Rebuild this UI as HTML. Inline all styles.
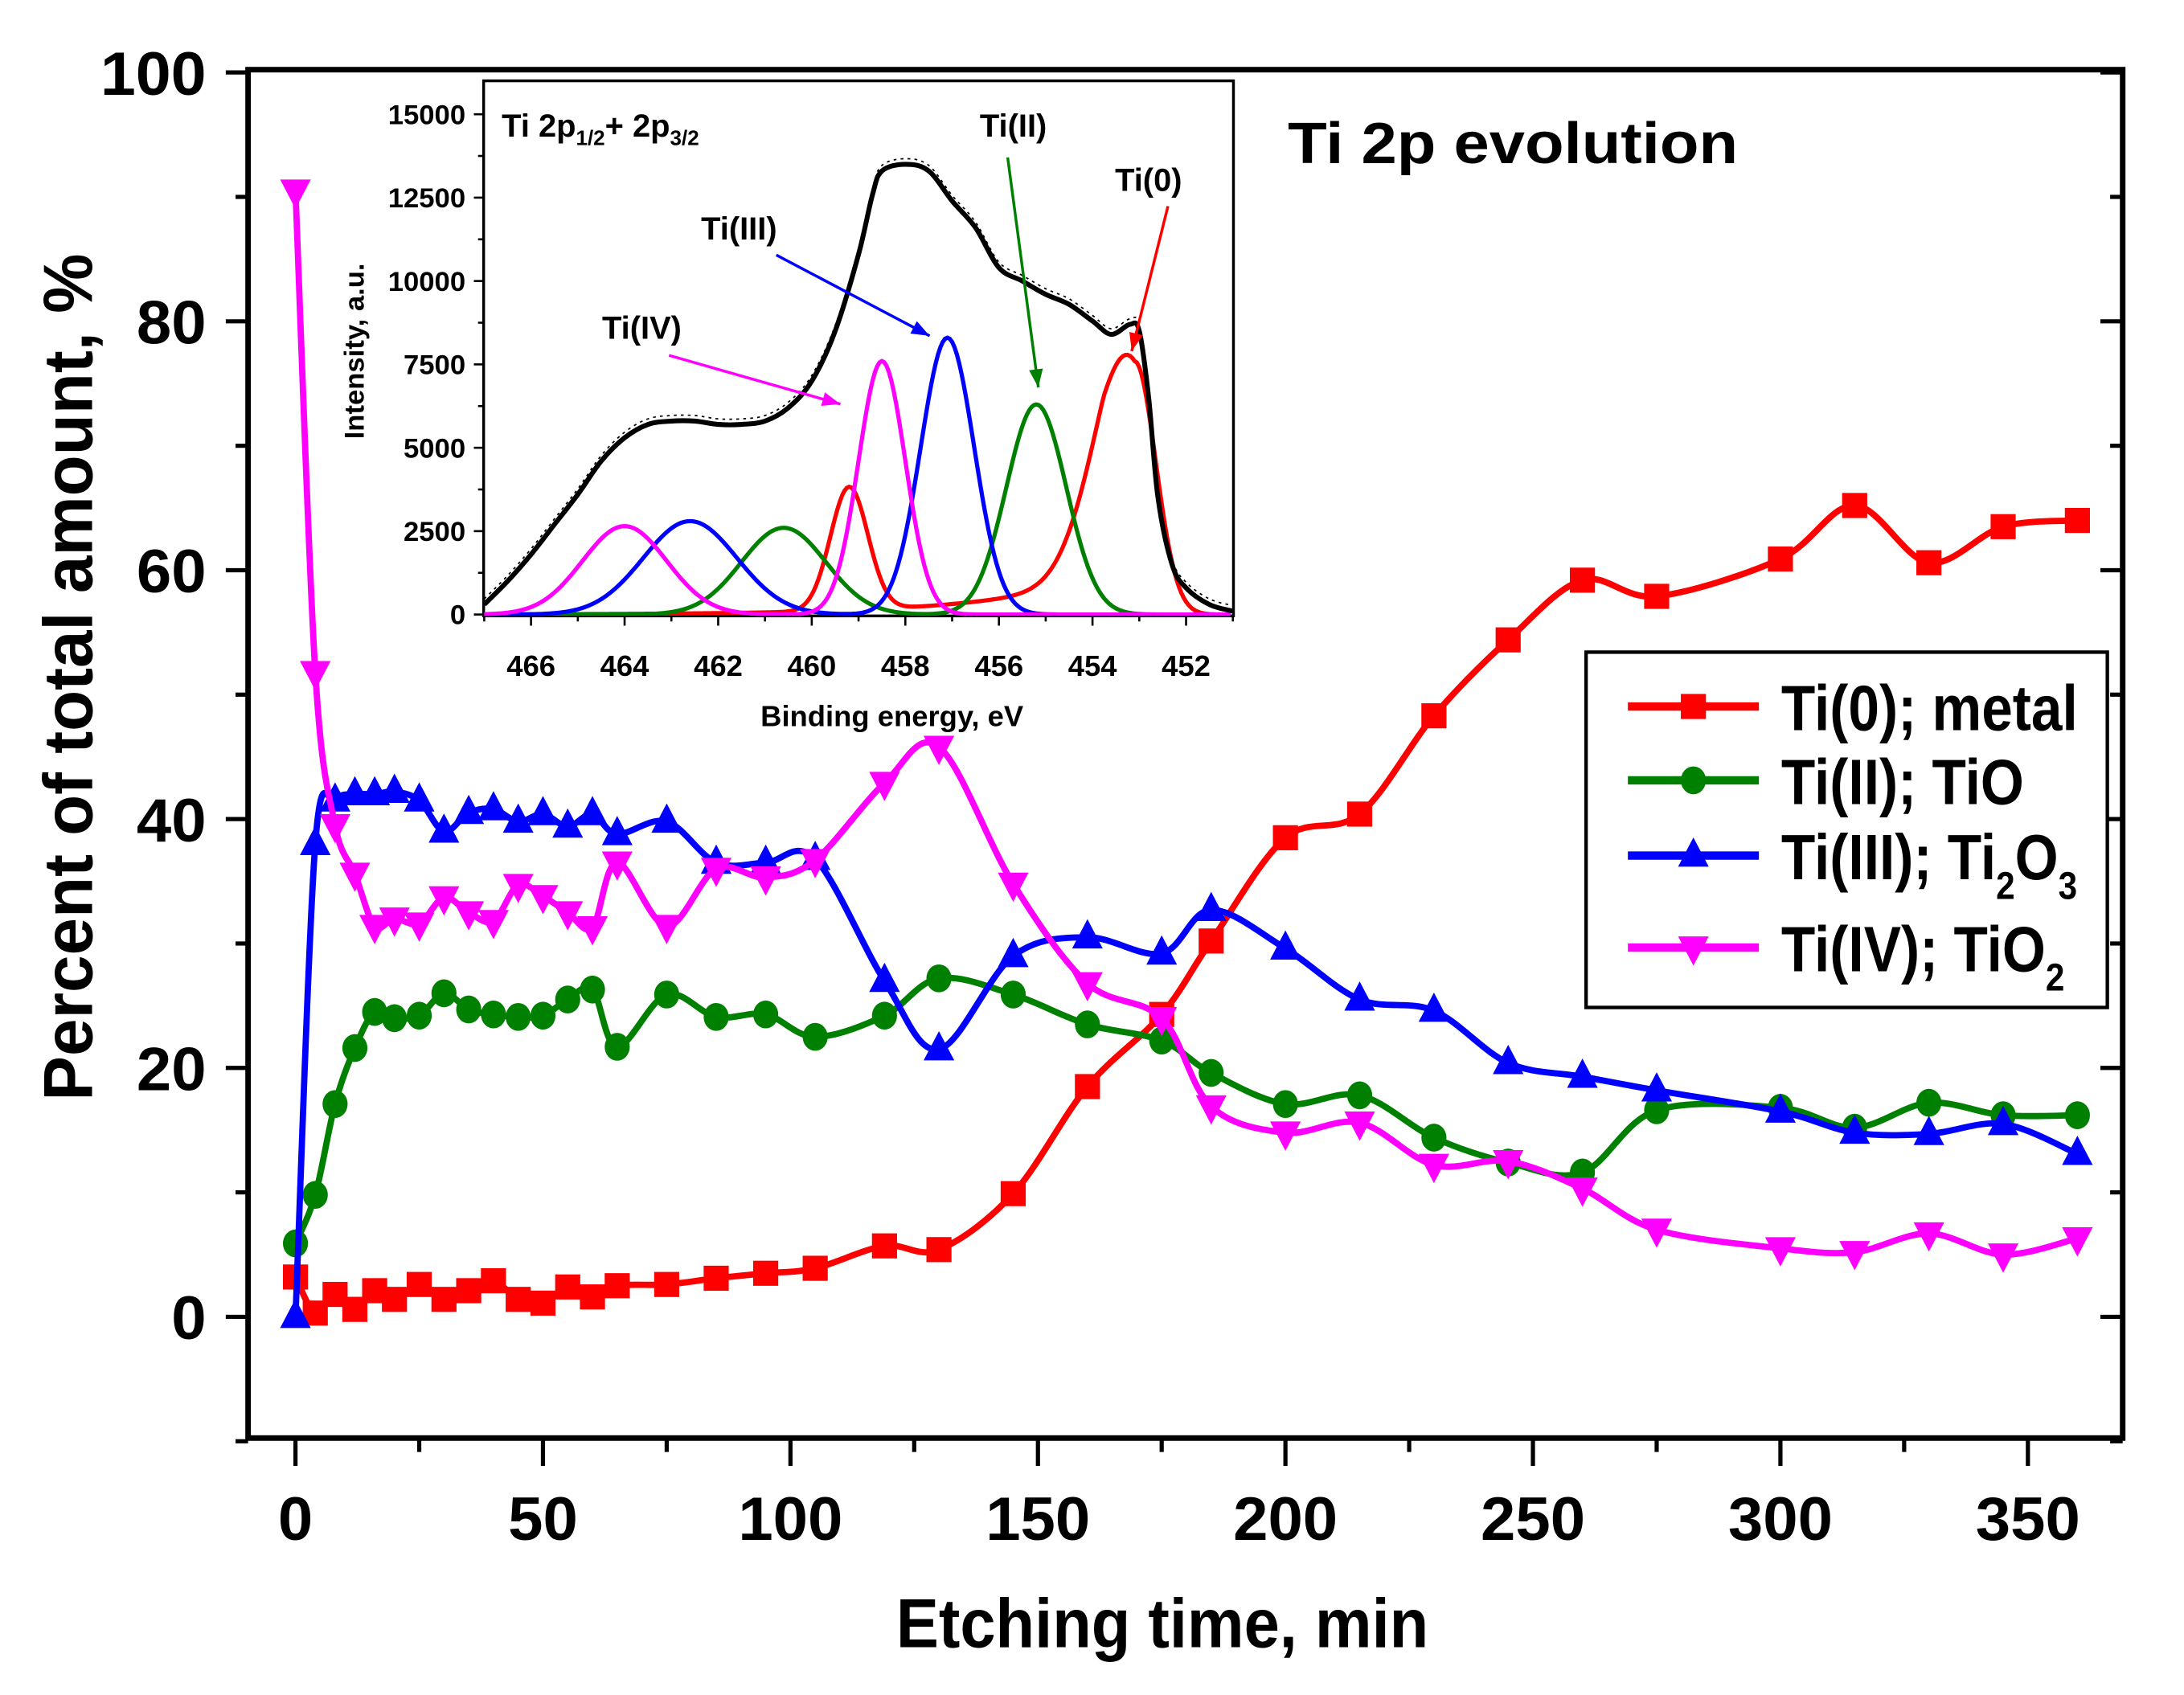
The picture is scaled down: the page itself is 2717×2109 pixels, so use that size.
<!DOCTYPE html>
<html><head><meta charset="utf-8"><style>
html,body{margin:0;padding:0;background:#fff}
svg{display:block}
text{font-family:"Liberation Sans",Arial,sans-serif;font-weight:bold}
</style></head><body>
<svg id="chart" xmlns="http://www.w3.org/2000/svg" width="2717" height="2109" viewBox="0 0 1567 1216.4" preserveAspectRatio="none">
<g id="main"></g>
<g id="inset"></g>
</svg>
<script>
const times=[0,4,8,12,16,20,25,30,35,40,45,50,55,60,65,75,85,95,105,119,130,145,160,175,185,200,215,230,245,260,275,300,315,330,345,360];
const ti0=[3.2,0.3,1.8,0.6,2.1,1.4,2.6,1.4,2.1,2.9,1.4,1.1,2.4,1.6,2.5,2.6,3.1,3.5,3.9,5.7,5.4,9.9,18.5,24.3,30.2,38.5,40.4,48.3,54.4,59.2,57.9,60.9,65.2,60.6,63.5,64.0];
const ti2=[5.9,9.8,17.1,21.6,24.5,24.0,24.2,26.0,24.7,24.3,24.1,24.2,25.5,26.3,21.7,25.9,24.1,24.3,22.5,24.2,27.2,25.9,23.5,22.2,19.6,17.1,17.8,14.4,12.4,11.6,16.6,16.8,15.2,17.2,16.2,16.2];
const ti3=[0,38,41.5,42,42,42.2,41.5,39,40.5,40.8,39.8,40.4,39.4,40.4,38.8,39.8,36.5,36.5,36.8,27,21.5,29,30.5,29.2,32.7,29.6,25.5,24.6,20.4,19.3,18.2,16.5,14.8,14.7,15.5,13.1];
const ti4=[90.5,51.8,39.5,35.6,31.4,32,31.6,33.7,32.5,31.8,34.7,33.8,32.5,31.3,36.5,31.4,36,35.3,36.7,42.9,45.8,34.8,26.8,24,16.9,14.8,15.6,12.2,12.5,10.3,7,5.5,5.2,6.7,5,6.3];
const xTicks=[0,50,100,150,200,250,300,350];
const yTicks=[0,20,40,60,80,100];
const envE=[467,466.5,466,465.5,465,464.5,464,463.5,463,462.5,462,461.5,461,460.5,460,459.5,459,458.7,458.5,458,457.5,457,456.5,456,455.5,455,454.5,454,453.6,453.2,453,452.8,452.6,452.3,452,451.5,451];
const envI=[300,1000,1800,2700,3600,4600,5300,5700,5800,5800,5700,5700,5800,6200,7000,8500,10800,12600,13300,13500,13300,12400,11600,10400,10000,9600,9300,8800,8400,8700,8500,6500,3500,1500,800,300,100];
const compNames=['ti0','ti2','ti3','ti4'];
const compColors=['#ff0000','#008000','#0000ff','#ff00ff'];
const peakPos=[[453.1,459.2],[455.2,460.6],[457.1,462.6],[458.5,464.0]];
const peakH=[[7600,3700],[6300,2600],[8300,2800],[7600,2650]];
const peakSig=[[0.45,0.4],[0.64,0.9],[0.57,1.0],[0.5,0.9]];
const insetXTicks=[466,464,462,460,458,456,454,452];
const insetYTicks=[0,2500,5000,7500,10000,12500,15000];

const NS='http://www.w3.org/2000/svg';
function mk(parent,tag,attrs,txt){const e=document.createElementNS(NS,tag);for(const k in attrs)e.setAttribute(k,attrs[k]);if(txt!==undefined)e.textContent=txt;parent.appendChild(e);return e;}
const L=178,R=1523,T=50,B=1032;
const X=v=>212+(v-0)*(1455-212)/350;
const Y=v=>945-v*(945-52)/100;
const main=document.getElementById('main');
function smooth(pts){let d='M'+pts[0][0]+','+pts[0][1];for(let i=0;i<pts.length-1;i++){const p0=pts[Math.max(0,i-1)],p1=pts[i],p2=pts[i+1],p3=pts[Math.min(pts.length-1,i+2)];const t=6;d+=' C'+(p1[0]+(p2[0]-p0[0])/t)+','+(p1[1]+(p2[1]-p0[1])/t)+' '+(p2[0]-(p3[0]-p1[0])/t)+','+(p2[1]-(p3[1]-p1[1])/t)+' '+p2[0]+','+p2[1];}return d;}
for(let v=-10;v<=100;v+=10){const major=v%20===0;const t=mk(main,'line',{x1:L,x2:L-(major?16:9),y1:Y(v),y2:Y(v),stroke:'#000','stroke-width':3});

const t2=mk(main,'line',{x1:R,x2:R-(major?16:9),y1:Y(v),y2:Y(v),stroke:'#000','stroke-width':3});
}
for(let v=0;v<=350;v+=25){const major=v%50===0;const t=mk(main,'line',{x1:X(v),x2:X(v),y1:B,y2:B+(major?20:10),stroke:'#000','stroke-width':3});
}
yTicks.forEach(v=>{const t=mk(main,'text',{x:148,y:Y(v)+16,'text-anchor':'end','font-size':44,textLength:v>=100?76:(v>0?50:25),lengthAdjust:'spacingAndGlyphs'},String(v));
});
xTicks.forEach(v=>{const w=v>=100?75:(v>0?50:25);const t=mk(main,'text',{x:X(v)-w/2,y:1105,'font-size':44,textLength:w,lengthAdjust:'spacingAndGlyphs'},String(v));
});
let at=mk(main,'text',{x:643,y:1182,'font-size':50,textLength:382,lengthAdjust:'spacingAndGlyphs'},'Etching time, min');

at=mk(main,'text',{x:0,y:0,'font-size':50,textLength:608,lengthAdjust:'spacingAndGlyphs',transform:'translate(66,790) rotate(-90)'},'Percent of total amount, %');

at=mk(main,'text',{x:924,y:117,'font-size':42,textLength:323,lengthAdjust:'spacingAndGlyphs'},'Ti 2p evolution');


const series=[['ti0-metal',ti0,'#ff0000','sq'],['ti2-tio',ti2,'#008000','ci'],['ti3-ti2o3',ti3,'#0000ff','up'],['ti4-tio2',ti4,'#ff00ff','dn']];
function marker(g,sh,x,y,c,name){let m;
 if(sh==='sq')m=mk(g,'rect',{x:x-9,y:y-9,width:18,height:18,fill:c});
 else if(sh==='ci')m=mk(g,'ellipse',{cx:x,cy:y,rx:9,ry:10,fill:c});
 else if(sh==='up')m=mk(g,'polygon',{points:`${x},${y-13} ${x+11},${y+8} ${x-11},${y+8}`,fill:c});
 else m=mk(g,'polygon',{points:`${x},${y+13} ${x+11},${y-8} ${x-11},${y-8}`,fill:c});
 }
series.forEach(([nm,vals,c,sh])=>{const g=mk(main,'g',{});
 
 const pts=times.map((t,i)=>[X(t),Y(vals[i])]);
 const p=mk(g,'path',{d:smooth(pts),fill:'none',stroke:c,'stroke-width':4.5});
 
 pts.forEach(q=>marker(g,sh,q[0],q[1],c,'point-'+nm));});
let fr=mk(main,'rect',{x:L,y:T,width:R-L,height:B-T,fill:'none',stroke:'#000','stroke-width':4});

const lg=mk(main,'g',{});
const lb=mk(lg,'rect',{x:1138,y:468,width:374,height:255,fill:'#fff',stroke:'#000','stroke-width':2.5});

const legY=[507,560,614,680];
const legT=[['Ti(0); metal'],['Ti(II); TiO'],['Ti(III); Ti','2','O','3'],['Ti(IV); TiO','2']];
series.forEach(([nm,vals,c,sh],i)=>{const y=legY[i];
 const ln=mk(lg,'line',{x1:1168,x2:1262,y1:y,y2:y,stroke:c,'stroke-width':6});
 
 marker(lg,sh,1215,y,c,'legend-marker-'+nm);
 const tx=mk(lg,'text',{x:1278,y:y+17,'font-size':46});
 
 legT[i].forEach((s,k)=>{const ts=mk(tx,'tspan',{},s);if(k%2===1){ts.setAttribute('font-size','28');ts.setAttribute('dy','14');}else if(k>0){ts.setAttribute('dy','-14');}});
 tx.setAttribute('transform',`translate(1278,0) scale(0.87,1) translate(-1278,0)`);});
const inset=document.getElementById('inset');
const IL=347,IR=885,IT=58,IB=442;
const IX=e=>381+(466-e)*(851-381)/14;
const IY=v=>441-v*(441-82)/15000;
const ib=mk(inset,'rect',{x:IL,y:IT,width:IR-IL,height:IB-IT,fill:'#fff',stroke:'#000','stroke-width':2});

for(let e=467;e>=451;e-=1){const major=e%2===0;const t=mk(inset,'line',{x1:IX(e),x2:IX(e),y1:IB,y2:IB+(major?7:4),stroke:'#000','stroke-width':1.5});
}
for(let v=0;v<=15000;v+=1250){const major=v%2500===0;const t=mk(inset,'line',{x1:IL,x2:IL-(major?7:4),y1:IY(v),y2:IY(v),stroke:'#000','stroke-width':1.5});
}
insetXTicks.forEach(e=>{const t=mk(inset,'text',{x:IX(e),y:485,'text-anchor':'middle','font-size':21},String(e));
});
insetYTicks.forEach(v=>{const t=mk(inset,'text',{x:334,y:IY(v)+7,'text-anchor':'end','font-size':20},String(v));
});
let it=mk(inset,'text',{x:640,y:521,'text-anchor':'middle','font-size':21},'Binding energy, eV');

it=mk(inset,'text',{x:0,y:0,'text-anchor':'middle','font-size':20,transform:'translate(261,252) rotate(-90)'},'Intensity, a.u.');

it=mk(inset,'text',{x:360,y:98,'font-size':23});

[['Ti 2p',0],['1/2',1],['+ 2p',0],['3/2',1]].forEach(([s,sub],k)=>{const ts=mk(it,'tspan',{},s);if(sub){ts.setAttribute('font-size','15');ts.setAttribute('dy','6');}else if(k>0)ts.setAttribute('dy','-6');});
const clip=mk(inset,'clipPath',{id:'ic'});mk(clip,'rect',{x:IL,y:IT,width:IR-IL,height:IB-IT});
const cg=mk(inset,'g',{'clip-path':'url(#ic)'});
compNames.forEach((nm,i)=>{let d='';for(let e=467;e>=451;e-=0.05){let v=0;
 for(let k=0;k<2;k++){const s=(k===0&&i===0&&e>peakPos[i][k])?0.8:peakSig[i][k];v+=peakH[i][k]*Math.exp(-Math.pow(e-peakPos[i][k],2)/(2*s*s));}
 if(i===0)v+=1500*Math.exp(-(e-453.1)/2.5)*(e>453.1?1:0)*Math.min(1,(e-453.1)*1.5);
 d+=(d?'L':'M')+IX(e).toFixed(2)+','+IY(v).toFixed(2);}
 const p=mk(cg,'path',{d:d,fill:'none',stroke:compColors[i],'stroke-width':3});
 });
const env=mk(cg,'path',{d:smooth(envE.map((e,i)=>[IX(e),IY(envI[i])])),fill:'none',stroke:'#000','stroke-width':3.5});

const raw=mk(cg,'path',{d:smooth(envE.map((e,i)=>[IX(e),IY(envI[i])])),fill:'none',stroke:'#000','stroke-width':1,'stroke-dasharray':'2 3',transform:'translate(0,-4)'});

const ann=[['Ti(IV)',432,243,'#ff00ff',480,255,603,290],['Ti(III)',503,172,'#0000ff',557,183,667,241],['Ti(II)',703,98,'#008000',723,113,745,278],['Ti(0)',800,137,'#ff0000',838,148,812,252]];
ann.forEach(([s,x,y,c,x1,y1,x2,y2])=>{const t=mk(inset,'text',{x:x,y:y,'font-size':23},s);
 
 const a=mk(inset,'line',{x1:x1,y1:y1,x2:x2,y2:y2,stroke:c,'stroke-width':2});
 
 const ang=Math.atan2(y2-y1,x2-x1),h=13,w=5;
 const hd=mk(inset,'polygon',{points:`${x2},${y2} ${x2-h*Math.cos(ang)+w*Math.sin(ang)},${y2-h*Math.sin(ang)-w*Math.cos(ang)} ${x2-h*Math.cos(ang)-w*Math.sin(ang)},${y2-h*Math.sin(ang)+w*Math.cos(ang)}`,fill:c});
 });
</script>
</body></html>
